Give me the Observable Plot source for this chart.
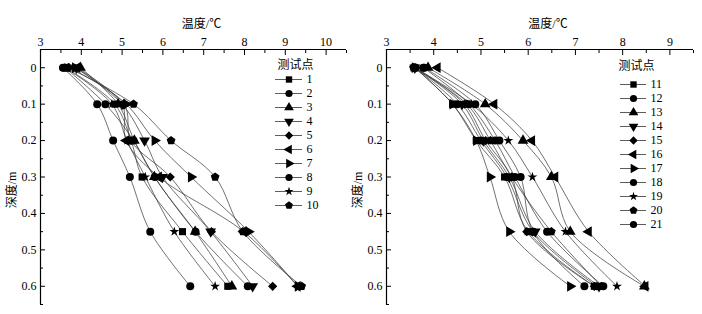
<!DOCTYPE html>
<html><head><meta charset="utf-8">
<script src="https://cdn.jsdelivr.net/npm/d3@7"></script>
<script src="https://cdn.jsdelivr.net/npm/@observablehq/plot@0.6"></script>
<style>
body{margin:0;background:#fff;}
#wrap{position:relative;width:702px;height:314px;overflow:hidden;background:#fff;}
#wrap > div, #wrap > svg{position:absolute;top:0;}
</style></head><body><div id="wrap"></div>
<script>
const depths = [0, 0.1, 0.2, 0.3, 0.45, 0.6];

const leftNames = ["1","2","3","4","5","6","7","8","9","10"];
const leftTemps = [
  [3.62, 4.82, 5.22, 5.49, 6.48, 7.59],
  [3.60, 4.59, 5.28, 5.80, 6.80, 8.08],
  [3.98, 4.90, 5.30, 5.79, 6.79, 7.69],
  [3.88, 5.00, 5.55, 5.99, 7.17, 8.20],
  [3.70, 5.05, 5.22, 6.18, 7.19, 8.69],
  [3.90, 5.00, 5.10, 5.90, 7.98, 9.30],
  [3.85, 5.10, 5.80, 6.69, 8.10, 9.31],
  [3.55, 4.39, 4.78, 5.19, 5.69, 6.67],
  [3.60, 4.75, 5.12, 5.57, 6.28, 7.28],
  [3.68, 5.28, 6.20, 7.28, 7.96, 9.40]
];
const leftSymbols = ["square","circle","triangle","triangleDown","diamond","triangleLeft","triangleRight","circle","star","pentagon"];

const rightNames = ["11","12","13","14","15","16","17","18","19","20","21"];
const rightTemps = [
  [3.60, 4.40, 4.90, 5.50, 6.00, 7.40],
  [3.60, 4.50, 5.00, 5.55, 6.10, 7.45],
  [3.88, 5.09, 5.89, 6.49, 6.89, 8.46],
  [3.60, 4.60, 5.05, 5.60, 6.15, 7.50],
  [3.62, 4.65, 5.10, 5.65, 5.97, 7.40],
  [4.08, 5.28, 6.08, 6.57, 7.28, 8.48],
  [3.60, 4.40, 4.90, 5.19, 5.60, 6.89],
  [3.78, 4.75, 5.30, 5.72, 6.40, 7.59],
  [3.60, 4.80, 5.58, 6.09, 6.79, 7.88],
  [3.57, 4.70, 5.20, 5.65, 6.49, 7.55],
  [3.80, 4.88, 5.39, 5.84, 6.10, 7.19]
];
const rightSymbols = ["square","circle","triangle","triangleDown","diamond","triangleLeft","triangleRight","circle","star","pentagon","circle"];

const xMajorLeft = [3, 4, 5, 6, 7, 8, 9, 10];
const xMinorLeft = [3.5, 4.5, 5.5, 6.5, 7.5, 8.5, 9.5, 10.5];
const xMajorRight = [3, 4, 5, 6, 7, 8, 9];
const xMinorRight = [3.5, 4.5, 5.5, 6.5, 7.5, 8.5, 9.5];
const yMajor = [0, 0.1, 0.2, 0.3, 0.4, 0.5, 0.6];
const yMajorLabels = ["0", "0.1", "0.2", "0.3", "0.4", "0.5", "0.6"];
const yMinor = [0.05, 0.15, 0.25, 0.35, 0.45, 0.55, 0.65];
const yDomain = [-0.05, 0.65];

const xTitle = "温度/℃";
const yTitle = "深度/m";
const legendTitle = "测试点";

const FONT = "'Liberation Serif', 'Times New Roman', 'Noto Sans CJK SC', serif";
const sqrt3 = Math.sqrt(3);
function tri(dir) {
  return {draw(ctx, size) {
    const y = -Math.sqrt(size / (sqrt3 * 3));
    let pts = [[0, y * 2], [-sqrt3 * y, -y], [sqrt3 * y, -y]];
    if (dir === "down") pts = pts.map(([a, b]) => [a, -b]);
    if (dir === "left") pts = pts.map(([a, b]) => [b, a]);
    if (dir === "right") pts = pts.map(([a, b]) => [-b, a]);
    ctx.moveTo(pts[0][0], pts[0][1]);
    ctx.lineTo(pts[1][0], pts[1][1]);
    ctx.lineTo(pts[2][0], pts[2][1]);
    ctx.closePath();
  }};
}
const pentagon = {draw(ctx, size) {
  const R = Math.sqrt(2 * size / (5 * Math.sin(2 * Math.PI / 5)));
  for (let k = 0; k < 5; k++) {
    const a = -Math.PI / 2 + k * 2 * Math.PI / 5;
    const px = R * Math.cos(a), py = R * Math.sin(a);
    if (k === 0) ctx.moveTo(px, py); else ctx.lineTo(px, py);
  }
  ctx.closePath();
}};
const diamond = {draw(ctx, size) {
  const R = Math.sqrt(size / 2) * 0.92;
  ctx.moveTo(0, -R); ctx.lineTo(R, 0); ctx.lineTo(0, R); ctx.lineTo(-R, 0); ctx.closePath();
}};
const star = {draw(ctx, size) { d3.symbolStar.draw(ctx, size * 0.6); }};
const SYM = {
  square: "square", circle: "circle", triangle: "triangle", diamond, star,
  triangleDown: tri("down"), triangleLeft: tri("left"), triangleRight: tri("right"), pentagon
};

function panel({names, temps, syms, xDomain, xMajor, xMinor, marginLeft, marginRight}) {
  const rows = names.flatMap((s, i) => depths.map((d, j) => ({s, d, t: temps[i][j]})));
  return Plot.plot({
    width: 351, height: 314,
    marginTop: 49, marginBottom: 10, marginLeft, marginRight,
    style: {fontFamily: FONT, fontSize: "12px", color: "#000", background: "transparent", overflow: "visible"},
    x: {domain: xDomain, axis: null},
    y: {domain: yDomain, reverse: true, axis: null},
    marks: [
      Plot.axisX({anchor: "top", ticks: xMajor, tickSize: -5, tickPadding: 9, label: null, tickFormat: d => String(d)}),
      Plot.axisX({anchor: "top", ticks: xMinor, tickSize: -3, tickPadding: 0, label: null, tickFormat: () => ""}),
      Plot.axisY({anchor: "left", ticks: yMajor, tickSize: -5, tickPadding: 9, label: null, tickFormat: d => yMajorLabels[yMajor.indexOf(d)]}),
      Plot.axisY({anchor: "left", ticks: yMinor, tickSize: -3, tickPadding: 0, label: null, tickFormat: () => ""}),
      Plot.ruleY([yDomain[0]], {x1: xDomain[0], x2: xDomain[1], stroke: "#000", strokeWidth: 1.2}),
      Plot.ruleX([xDomain[0]], {y1: yDomain[0], y2: yDomain[1], stroke: "#000", strokeWidth: 1.2}),
      Plot.line(rows, {x: "t", y: "d", z: "s", curve: "catmull-rom", stroke: "#333", strokeWidth: 0.7}),
      ...names.map((s, i) => Plot.dot(rows.filter(r => r.s === s), {x: "t", y: "d", symbol: SYM[syms[i]], fill: "#000", stroke: "none", r: 4})),
      Plot.text([xTitle], {text: d => d, frameAnchor: "top", textAnchor: "middle", lineAnchor: "middle", dy: -25, dx: 8, fontSize: 12}),
      Plot.text([yTitle], {text: d => d, frameAnchor: "left", textAnchor: "middle", lineAnchor: "middle", rotate: -90, dx: -28, dy: 13, fontSize: 12})
    ]
  });
}

function legendPlot({names, syms, lineX0, lineX1, rowY0, rowY1, titleY, titleDx}) {
  return Plot.plot({
    width: 351, height: 314,
    marginLeft: lineX0, marginRight: 351 - lineX1, marginTop: titleY, marginBottom: 0,
    style: {fontFamily: FONT, fontSize: "12px", color: "#000", background: "transparent", overflow: "visible"},
    y: {type: "point", domain: names, range: [rowY0, rowY1], padding: 0, axis: null},
    marks: [
      Plot.ruleY(names, {y: d => d, stroke: "#333", strokeWidth: 0.8}),
      ...names.map((s, i) => Plot.dot([s], {y: d => d, frameAnchor: "middle", symbol: SYM[syms[i]], fill: "#000", stroke: "none", r: 3.6})),
      Plot.text(names, {y: d => d, text: d => d, frameAnchor: "right", textAnchor: "start", dx: 4, fontSize: 12}),
      Plot.text([legendTitle], {text: d => d, frameAnchor: "top-left", textAnchor: "start", lineAnchor: "middle", dx: titleDx, fontSize: 12})
    ]
  });
}

const wrap = document.getElementById("wrap");
function place(node, left) {
  node.style.position = "absolute";
  node.style.left = left + "px";
  node.style.top = "0px";
  wrap.appendChild(node);
}
place(panel({names: leftNames, temps: leftTemps, syms: leftSymbols, xDomain: [3, 10.5], xMajor: xMajorLeft, xMinor: xMinorLeft, marginLeft: 40, marginRight: 5}), 0);
place(legendPlot({names: leftNames, syms: leftSymbols, lineX0: 275, lineX1: 302, rowY0: 78.3, rowY1: 206.7, titleY: 65, titleDx: 2}), 0);
place(panel({names: rightNames, temps: rightTemps, syms: rightSymbols, xDomain: [3, 9.5], xMajor: xMajorRight, xMinor: xMinorRight, marginLeft: 35, marginRight: 9}), 351);
place(legendPlot({names: rightNames, syms: rightSymbols, lineX0: 269, lineX1: 295, rowY0: 82.3, rowY1: 225, titleY: 66, titleDx: -2}), 351);
</script></body></html>
